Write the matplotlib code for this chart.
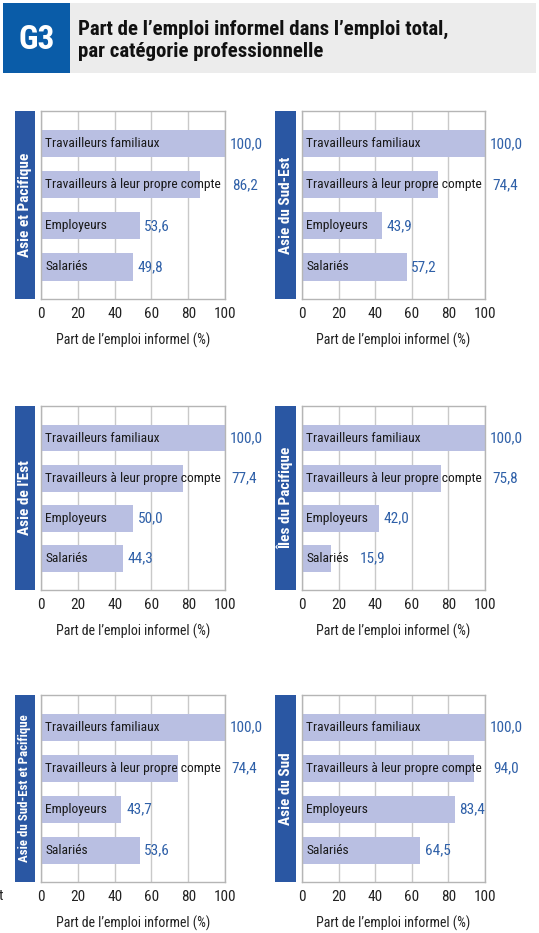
import numpy as np
import matplotlib
matplotlib.use('Agg')
import matplotlib.pyplot as plt
from matplotlib.patches import Rectangle

plt.rcParams['font.family'] = ['Roboto Condensed', 'Liberation Sans', 'DejaVu Sans']

# Data
categories = ['Travailleurs familiaux', 'Travailleurs à leur propre compte', 'Employeurs', 'Salariés']
regions = ['Asie et Pacifique', 'Asie du Sud-Est', "Asie de l'Est",
           'Îles du Pacifique', 'Asie du Sud-Est et Pacifique', 'Asie du Sud']
asie_pacifique = [100.0, 86.2, 53.6, 49.8]
asie_sud_est = [100.0, 74.4, 43.9, 57.2]
asie_est = [100.0, 77.4, 50.0, 44.3]
iles_pacifique = [100.0, 75.8, 42.0, 15.9]
asie_se_pacifique = [100.0, 74.4, 43.7, 53.6]
asie_sud = [100.0, 94.0, 83.4, 64.5]
panel_values = [asie_pacifique, asie_sud_est, asie_est, iles_pacifique, asie_se_pacifique, asie_sud]
x_ticks = [0, 20, 40, 60, 80, 100]

title = 'Part de l’emploi informel dans l’emploi total,\npar catégorie professionnelle'
xlabel = 'Part de l’emploi informel (%)'

W, H = 539, 933
fig = plt.figure(figsize=(W / 100, H / 100), dpi=100)

BLUE = '#2a57a3'
BAR = '#b9bfe2'
VAL = '#2f60a8'
GRID = '#c9c9c9'


def px_rect(x0, y0, x1, y1):
    return [x0 / W, 1 - y1 / H, (x1 - x0) / W, (y1 - y0) / H]


# Header
fig.patches.append(Rectangle((3 / W, 1 - 73 / H), 533 / W, 70 / H, transform=fig.transFigure,
                             facecolor='#ececec', edgecolor='none'))
fig.patches.append(Rectangle((3 / W, 1 - 73 / H), 67 / W, 70 / H, transform=fig.transFigure,
                             facecolor='#0a5ca8', edgecolor='none'))
fig.text(36.5 / W, 1 - 40 / H, 'G3', color='white', fontsize=24, fontweight='bold',
         ha='center', va='center')
fig.text(78 / W, 1 - 40 / H, title, color='#111111', fontsize=15, fontweight='bold',
         ha='left', va='center', linespacing=1.2)

# stray letter cut at the left edge
fig.text(3.5 / W, 1 - 896 / H, 't', fontsize=11, ha='right', va='center', color='#222222')

col_x = [(41, 225, 15, 35), (302, 485, 275, 296)]
row_y = [(111, 299), (406, 590), (695, 882)]

fig.canvas.draw()
renderer = fig.canvas.get_renderer()

for k, vals in enumerate(panel_values):
    r, c = divmod(k, 2)
    ax0, ax1, s0, s1 = col_x[c]
    y0, y1 = row_y[r]
    ax = fig.add_axes(px_rect(ax0, y0, ax1, y1))
    pos = np.arange(len(categories))
    ax.barh(pos, vals, height=0.66, color=BAR, zorder=2)
    ax.set_xlim(0, 100)
    ax.set_ylim(3.78, -0.8)
    ax.set_xticks(x_ticks)
    ax.set_xticklabels([str(t) for t in x_ticks])
    ax.set_yticks([])
    ax.tick_params(axis='x', length=0, pad=6, labelsize=11, colors='#222222')
    ax.xaxis.grid(True, color=GRID, linewidth=1, zorder=0)
    for sp in ax.spines.values():
        sp.set_color('#b5b5b5')
        sp.set_linewidth(1)
    ax.set_xlabel(xlabel, fontsize=10, labelpad=8, color='#222222')

    for i, (cat, v) in enumerate(zip(categories, vals)):
        t = ax.text(2.2, i, cat, va='center', ha='left', fontsize=9.7, color='#1a1a1a', zorder=3)
        bb = t.get_window_extent(renderer=renderer)
        text_end = ax.transData.inverted().transform((bb.x1, 0))[0]
        lx = v + 2.5 if v >= text_end else text_end + 6
        ax.text(lx, i, f'{v:.1f}'.replace('.', ','), va='center', ha='left',
                fontsize=11, color=VAL, zorder=3, clip_on=False)

    fig.patches.append(Rectangle((s0 / W, 1 - y1 / H), (s1 - s0) / W, (y1 - y0) / H,
                                 transform=fig.transFigure, facecolor=BLUE, edgecolor='none'))
    fs = 11 if len(regions[k]) < 20 else 9.3
    fig.text((s0 + s1) / 2 / W, 1 - (y0 + y1) / 2 / H, regions[k], rotation=90, color='white',
             fontsize=fs, fontweight='bold', ha='center', va='center')

fig.savefig('out.png', dpi=100)
